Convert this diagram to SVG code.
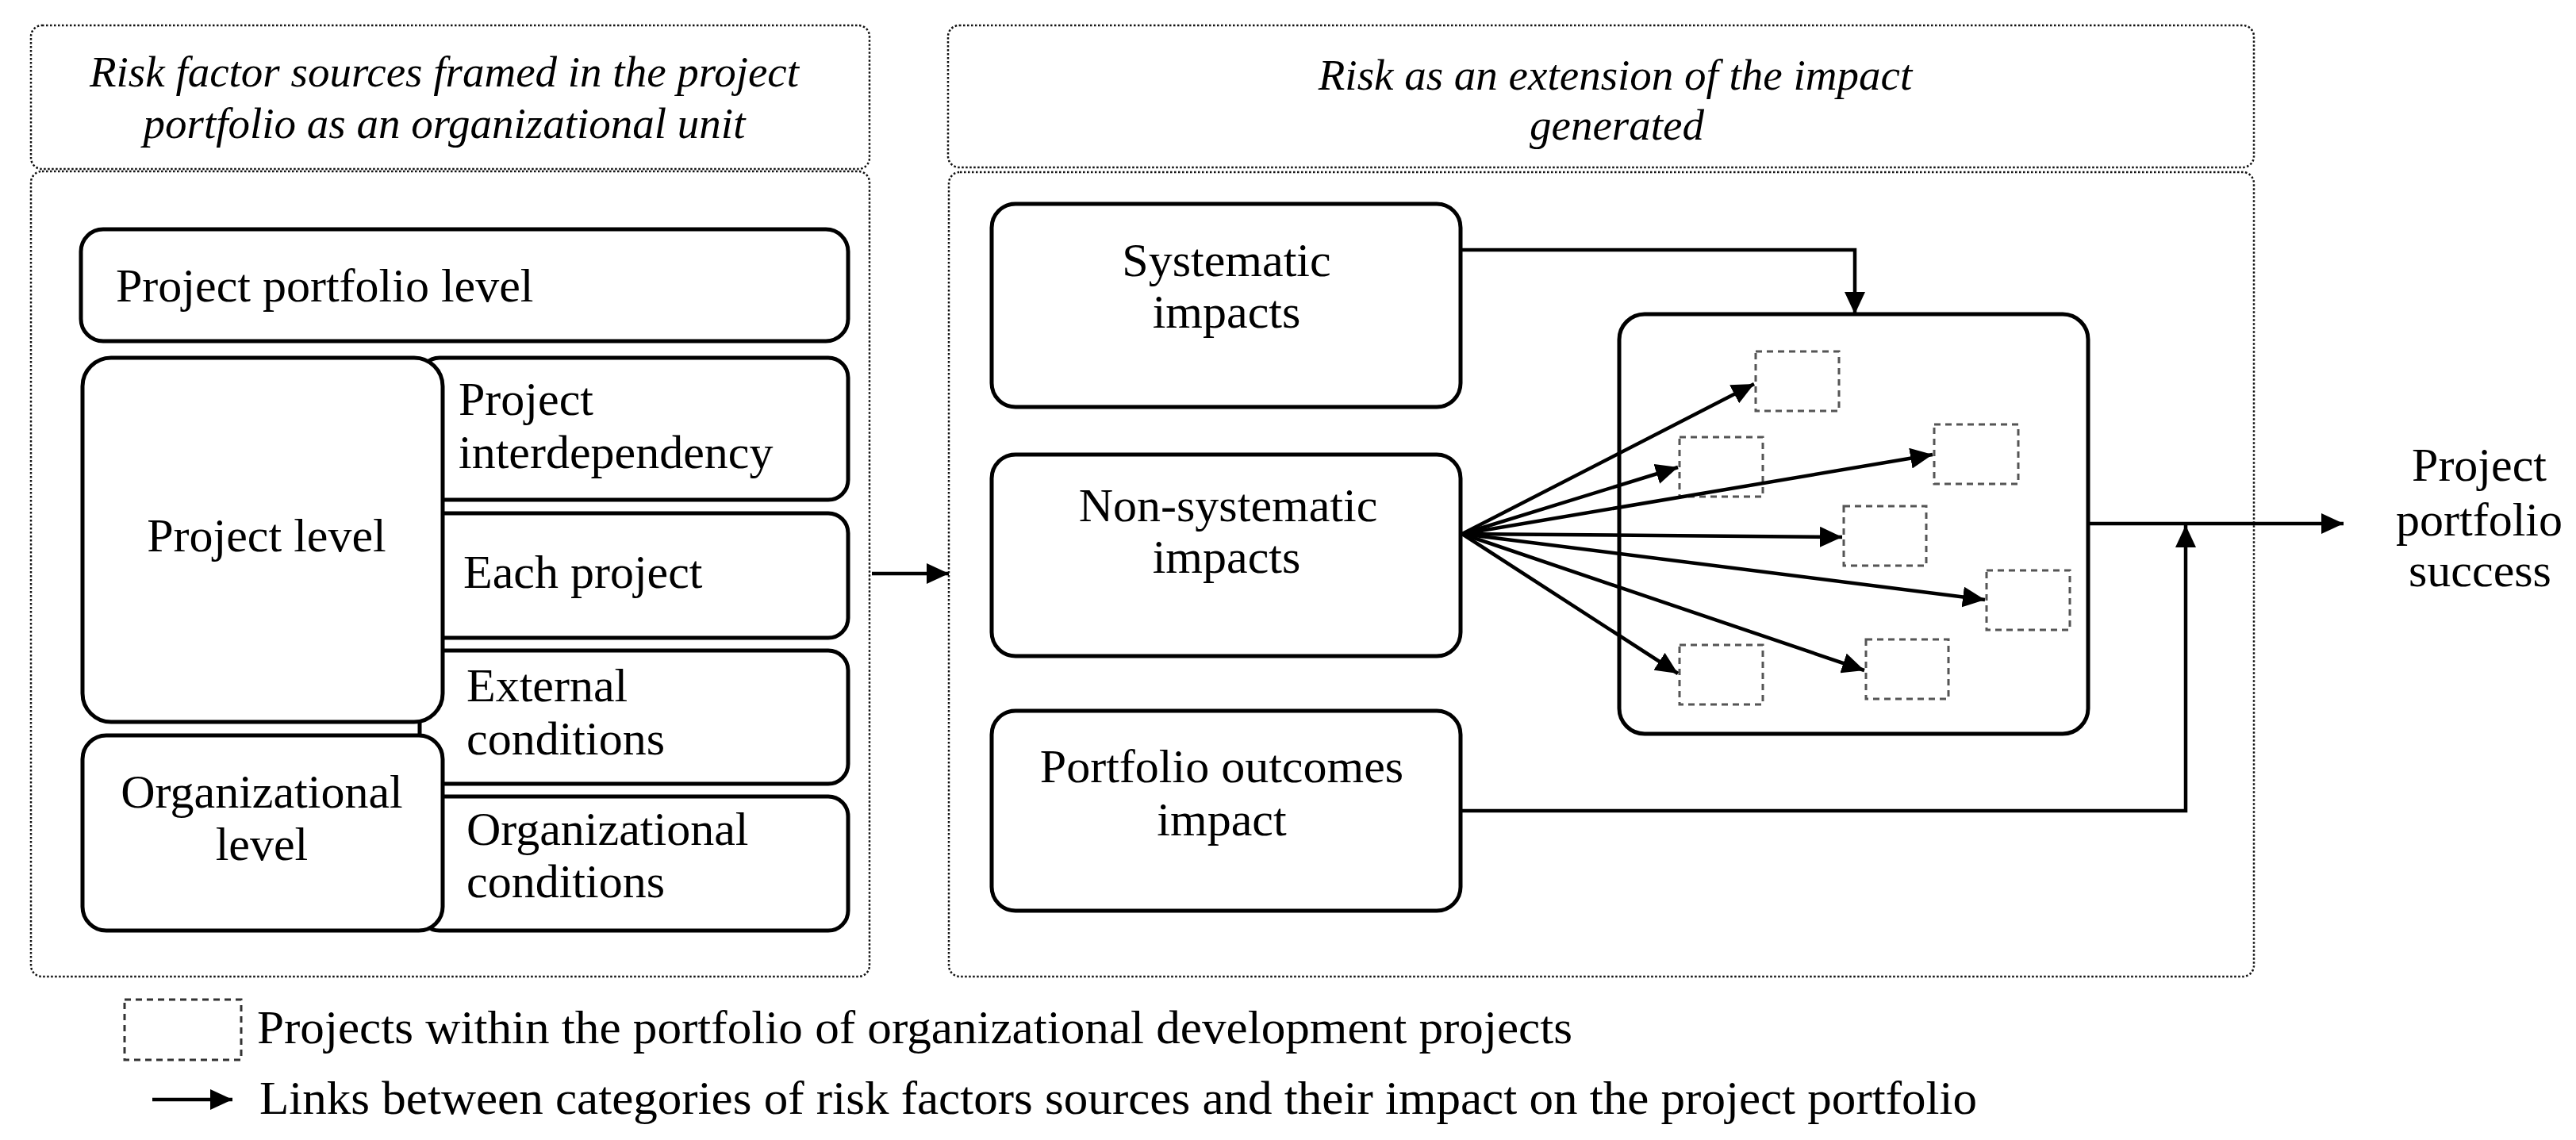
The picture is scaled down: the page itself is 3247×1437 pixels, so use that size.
<svg xmlns="http://www.w3.org/2000/svg" width="3247" height="1437" viewBox="0 0 3247 1437">
<style>
.panel{fill:none;stroke:#111;stroke-width:2.5;stroke-dasharray:2.5 2.5}
.box{fill:#fff;stroke:#000;stroke-width:5}
.proj{fill:none;stroke:#555;stroke-width:3;stroke-dasharray:8 6}
.leg{fill:none;stroke:#333;stroke-width:3;stroke-dasharray:8 6}
.lbl{font-family:"Liberation Serif","Times New Roman",serif;font-size:60px;fill:#000}
.hdr{font-family:"Liberation Serif","Times New Roman",serif;font-size:55px;font-style:italic;fill:#000}
.mid{text-anchor:middle}
.conn{fill:none;stroke:#000;stroke-width:4.5}
</style>
<defs>
<marker id="ah" markerUnits="userSpaceOnUse" markerWidth="30" markerHeight="26" refX="28" refY="13" orient="auto">
<path d="M0,0 L28,13 L0,26 z" fill="#000"/>
</marker>
</defs>
<rect width="3247" height="1437" fill="#fff"/>

<g id="left-panel">
<rect class="panel" x="39" y="32" width="1057" height="181" rx="14"/>
<rect class="panel" x="39" y="216" width="1057" height="1015" rx="14"/>
<text class="hdr mid" x="560" y="109">Risk factor sources framed in the project</text>
<text class="hdr mid" x="560" y="174">portfolio as an organizational unit</text>
</g>

<g id="right-panel">
<rect class="panel" x="1195" y="32" width="1646" height="179" rx="14"/>
<rect class="panel" x="1196" y="217" width="1645" height="1014" rx="14"/>
<text class="hdr mid" x="2036" y="113">Risk as an extension of the impact</text>
<text class="hdr mid" x="2038" y="176">generated</text>
</g>

<g id="project-portfolio-level">
<rect class="box" x="102" y="289" width="967" height="141" rx="28"/>
<text class="lbl" x="146" y="380">Project portfolio level</text>
</g>
<g id="project-interdependency">
<rect class="box" x="529" y="451" width="540" height="179" rx="25"/>
<text class="lbl" x="578" y="523">Project</text>
<text class="lbl" x="578" y="590">interdependency</text>
</g>
<g id="each-project">
<rect class="box" x="529" y="647" width="540" height="157" rx="25"/>
<text class="lbl" x="584" y="741">Each project</text>
</g>
<g id="external-conditions">
<rect class="box" x="529" y="820" width="540" height="168" rx="25"/>
<text class="lbl" x="588" y="884">External</text>
<text class="lbl" x="588" y="951">conditions</text>
</g>
<g id="organizational-conditions">
<rect class="box" x="529" y="1004" width="540" height="169" rx="25"/>
<text class="lbl" x="588" y="1065">Organizational</text>
<text class="lbl" x="588" y="1131">conditions</text>
</g>
<g id="project-level">
<rect class="box" x="104" y="451" width="454" height="459" rx="36"/>
<text class="lbl mid" x="336" y="695">Project level</text>
</g>
<g id="organizational-level">
<rect class="box" x="104" y="927" width="454" height="246" rx="30"/>
<text class="lbl mid" x="330" y="1018">Organizational</text>
<text class="lbl mid" x="330" y="1084">level</text>
</g>

<g id="systematic-impacts">
<rect class="box" x="1250" y="257" width="591" height="256" rx="30"/>
<text class="lbl mid" x="1546" y="348">Systematic</text>
<text class="lbl mid" x="1546" y="413">impacts</text>
</g>
<g id="non-systematic-impacts">
<rect class="box" x="1250" y="573" width="591" height="254" rx="30"/>
<text class="lbl mid" x="1548" y="657">Non-systematic</text>
<text class="lbl mid" x="1546" y="722">impacts</text>
</g>
<g id="portfolio-outcomes-impact">
<rect class="box" x="1250" y="896" width="591" height="252" rx="30"/>
<text class="lbl mid" x="1540" y="986">Portfolio outcomes</text>
<text class="lbl mid" x="1540" y="1053">impact</text>
</g>

<g id="portfolio">
<rect class="box" x="2041" y="396" width="591" height="529" rx="32"/>
<rect class="proj" x="2213" y="443" width="105" height="75"/>
<rect class="proj" x="2117" y="551" width="105" height="75"/>
<rect class="proj" x="2438" y="535" width="106" height="75"/>
<rect class="proj" x="2324" y="638" width="104" height="75"/>
<rect class="proj" x="2504" y="719" width="105" height="75"/>
<rect class="proj" x="2117" y="813" width="105" height="75"/>
<rect class="proj" x="2352" y="806" width="104" height="75"/>
</g>

<g id="project-portfolio-success">
<text class="lbl mid" x="3125" y="606">Project</text>
<text class="lbl mid" x="3125" y="675">portfolio</text>
<text class="lbl mid" x="3126" y="739">success</text>
</g>

<g id="connectors">
<line class="conn" x1="1099" y1="723" x2="1196" y2="723" marker-end="url(#ah)"/>
<polyline class="conn" points="1841,315 2338,315 2338,396" marker-end="url(#ah)"/>
<polyline class="conn" points="1841,1022 2755,1022 2755,662" marker-end="url(#ah)"/>
<line class="conn" x1="2632" y1="660" x2="2954" y2="660" marker-end="url(#ah)"/>
<line class="conn" x1="1843" y1="673" x2="2211" y2="484" marker-end="url(#ah)"/>
<line class="conn" x1="1843" y1="673" x2="2115" y2="589" marker-end="url(#ah)"/>
<line class="conn" x1="1843" y1="673" x2="2436" y2="573" marker-end="url(#ah)"/>
<line class="conn" x1="1843" y1="673" x2="2322" y2="677" marker-end="url(#ah)"/>
<line class="conn" x1="1843" y1="673" x2="2502" y2="756" marker-end="url(#ah)"/>
<line class="conn" x1="1843" y1="673" x2="2115" y2="849" marker-end="url(#ah)"/>
<line class="conn" x1="1843" y1="673" x2="2350" y2="845" marker-end="url(#ah)"/>
</g>

<g id="legend">
<rect class="leg" x="157" y="1260" width="147" height="76"/>
<text class="lbl" x="324" y="1315" textLength="1658" lengthAdjust="spacingAndGlyphs">Projects within the portfolio of organizational development projects</text>
<line class="conn" x1="192" y1="1386" x2="293" y2="1386" marker-end="url(#ah)"/>
<text class="lbl" x="327" y="1404" textLength="2165" lengthAdjust="spacingAndGlyphs">Links between categories of risk factors sources and their impact on the project portfolio</text>
</g>
</svg>
